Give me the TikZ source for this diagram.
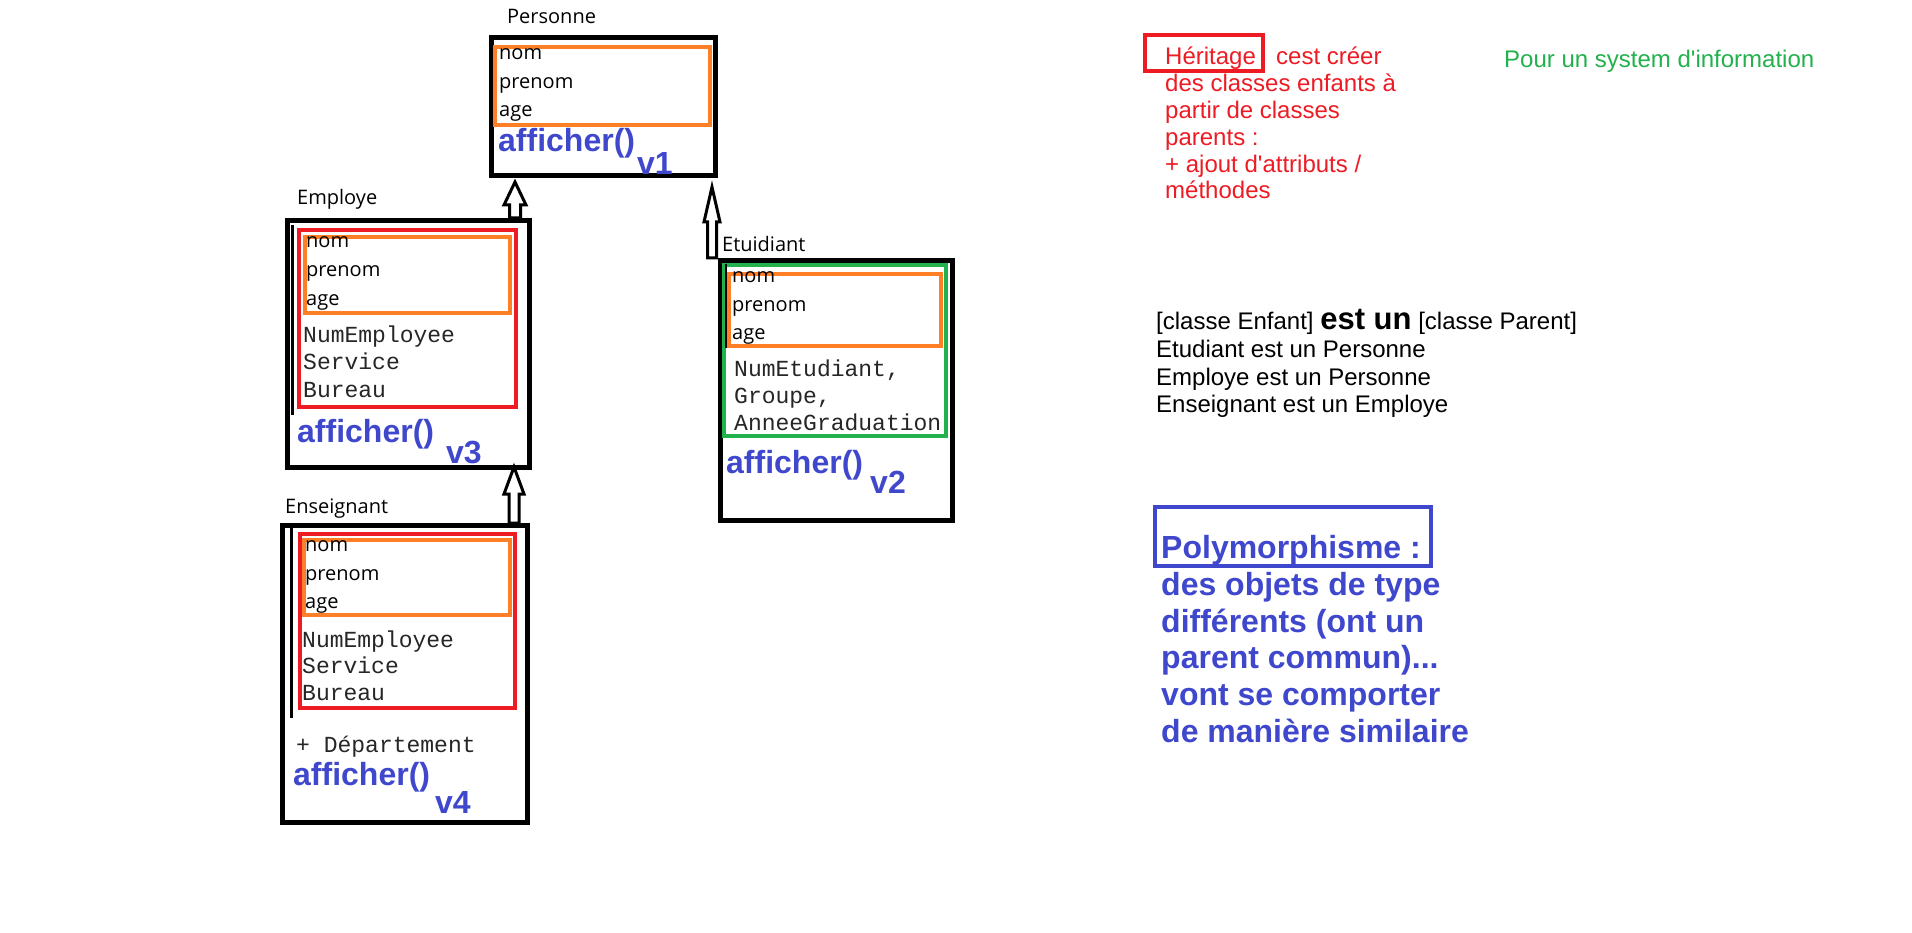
\documentclass[tikz,border=0pt]{standalone}
\usepackage{fontspec}
\setmainfont{Liberation Sans}
\setmonofont{Liberation Mono}
\newfontfamily\segfont{Open Sans}
\usetikzlibrary{calc}
\definecolor{pred}{HTML}{ED1C24}
\definecolor{porange}{HTML}{FF7F27}
\definecolor{pgreen}{HTML}{22B14C}
\definecolor{pblue}{HTML}{3F48CC}
\tikzset{
  classbox/.style={draw=black, line width=5pt, inner sep=0pt, anchor=north west},
  orbox/.style={draw=porange, line width=4pt, inner sep=0pt, anchor=north west},
  redbox/.style={draw=pred, line width=4pt, inner sep=0pt, anchor=north west},
  grbox/.style={draw=pgreen, line width=4pt, inner sep=0pt, anchor=north west},
  bluebox/.style={draw=pblue, line width=4pt, inner sep=0pt, anchor=north west},
  lbl/.style={font=\segfont\fontsize{20}{24}\selectfont, anchor=base west, inner sep=0pt},
  mono/.style={font=\ttfamily\fontsize{23}{27}\selectfont, text=black!85, anchor=base west, inner sep=0pt},
  meth/.style={font=\bfseries\fontsize{32}{36}\selectfont, text=pblue, anchor=base west, inner sep=0pt},
  redtxt/.style={font=\fontsize{24}{27}\selectfont, text=pred, anchor=base west, inner sep=0pt},
  blktxt/.style={font=\fontsize{24}{27}\selectfont, text=black, anchor=base west, inner sep=0pt},
  grtxt/.style={font=\fontsize{24}{27}\selectfont, text=pgreen, anchor=base west, inner sep=0pt},
  bltxt/.style={font=\bfseries\fontsize{32}{37}\selectfont, text=pblue, anchor=base west, inner sep=0pt},
  sideline/.style={draw=black, line width=3pt},
  blockarr/.style={draw=black, line width=3pt, fill=white, line join=miter}
}
\newcommand\hollowarrow[5]{%
  \draw[blockarr] let \p1=(#1), \p2=(#2) in
    (\x1-#4pt,\y1) -- (\x1-#4pt,\y2-#3pt) -- (\x1-#5pt,\y2-#3pt) -- (\x1,\y2)
    -- (\x1+#5pt,\y2-#3pt) -- (\x1+#4pt,\y2-#3pt) -- (\x1+#4pt,\y1) -- cycle;}
\begin{document}
\begin{tikzpicture}[x=1pt,y=-1pt]
\useasboundingbox (0,0) rectangle (1912,933);
\fill[white] (0,0) rectangle (1912,933);

% ---------- Personne ----------
\node[lbl] (lPers) at (507,24) {Personne};
\node[classbox, minimum width=224pt, minimum height=138pt] (personne) at (489,35) {};
\node[orbox, minimum width=215pt, minimum height=78pt] (pOr) at (493,45) {};
\node[lbl] (p1) at (499,60) {nom};
\node[lbl] (p2) at (499,89) {prenom};
\node[lbl] (p3) at (499,117) {age};
\node[meth] (pM) at (498,152) {afficher()};
\node[meth] (pV) at (637,175) {v1};

% ---------- Employe ----------
\node[lbl] (lEmp) at (297,205) {Employe};
\node[classbox, minimum width=242pt, minimum height=247pt] (employe) at (285,218) {};
\coordinate (eLa) at (292,225);
\coordinate (eLb) at (292,415);
\draw[sideline] (eLa) -- (eLb);
\node[redbox, minimum width=217pt, minimum height=177pt] (eRed) at (297,228) {};
\node[orbox, minimum width=205pt, minimum height=76pt] (eOr) at (303,235) {};
\node[lbl] (e1) at (306,248) {nom};
\node[lbl] (e2) at (306,277) {prenom};
\node[lbl] (e3) at (306,306) {age};
\node[mono] (e4) at (303,343) {NumEmployee};
\node[mono] (e5) at (303,370) {Service};
\node[mono] (e6) at (303,397) {Bureau};
\node[meth] (eM) at (297,442) {afficher()};
\node[meth] (eV) at (446,463) {v3};

% ---------- Enseignant ----------
\node[lbl] (lEns) at (285,513) {Enseignant};
\node[classbox, minimum width=245pt, minimum height=297pt] (enseignant) at (280,523) {};
\coordinate (nLa) at (291,528);
\coordinate (nLb) at (291,718);
\draw[sideline] (nLa) -- (nLb);
\node[redbox, minimum width=215pt, minimum height=174pt] (nRed) at (298,532) {};
\node[orbox, minimum width=206pt, minimum height=75pt] (nOr) at (302,538) {};
\node[lbl] (n1) at (305,551) {nom};
\node[lbl] (n2) at (305,580) {prenom};
\node[lbl] (n3) at (305,608) {age};
\node[mono] (n4) at (302,647) {NumEmployee};
\node[mono] (n5) at (302,673) {Service};
\node[mono] (n6) at (302,700) {Bureau};
\node[mono] (n7) at (296,752) {+ Département};
\node[meth] (nM) at (293,785) {afficher()};
\node[meth] (nV) at (435,813) {v4};

% ---------- Etudiant ----------
\node[lbl] (lEtu) at (722,252) {Etuidiant};
\node[classbox, minimum width=232pt, minimum height=260pt] (etudiant) at (718,258) {};
\node[grbox, minimum width=222pt, minimum height=171pt] (tGr) at (722,263) {};
\node[orbox, minimum width=212pt, minimum height=72pt] (tOr) at (727,272) {};
\coordinate (tLa) at (726,264);
\coordinate (tLb) at (726,348);
\draw[draw=black, line width=1.5pt] (tLa) -- (tLb);
\node[lbl] (t1) at (732,283) {nom};
\node[lbl] (t2) at (732,312) {prenom};
\node[lbl] (t3) at (732,340) {age};
\node[mono] (t4) at (734,377) {NumEtudiant,};
\node[mono] (t5) at (734,403) {Groupe,};
\node[mono] (t6) at (734,430) {AnneeGraduation};
\node[meth] (tM) at (726,473) {afficher()};
\node[meth] (tV) at (870,493) {v2};

% ---------- Inheritance arrows ----------
\coordinate (a1b) at (515,0 |- employe.north);
\coordinate (a1t) at ($(515,0 |- personne.south)+(0,4)$);
\hollowarrow{a1b}{a1t}{23}{5.5}{11}
\coordinate (a2b) at (712,0 |- etudiant.north);
\coordinate (a2t) at ($(712,0 |- personne.south)+(0,9)$);
\hollowarrow{a2b}{a2t}{35}{4.5}{8}
\coordinate (a3b) at (514,0 |- enseignant.north);
\coordinate (a3t) at ($(514,0 |- employe.south)+(0,-3)$);
\hollowarrow{a3b}{a3t}{27}{5}{10}

% ---------- Heritage text ----------
\node[redbox, minimum width=118pt, minimum height=36pt] (herBox) at (1143,33) {};
\node[redtxt] (h1) at (1165,65) {Héritage};
\node[redtxt] (h1b) at (1276,65) {cest créer};
\node[redtxt] (h2) at (1165,92) {des classes enfants à};
\node[redtxt] (h3) at (1165,119) {partir de classes};
\node[redtxt] (h4) at (1165,146) {parents :};
\node[redtxt] (h5) at (1165,173) {+ ajout d\textquotesingle attributs /};
\node[redtxt] (h6) at (1165,199) {méthodes};

\node[grtxt] (pour) at (1504,68) {Pour un system d\textquotesingle information};

% ---------- est un ----------
\node[blktxt] (k1) at (1156,330) {[classe Enfant] {\bfseries\fontsize{31}{31}\selectfont est un} [classe Parent]};
\node[blktxt] (k2) at (1156,358) {Etudiant est un Personne};
\node[blktxt] (k3) at (1156,385) {Employe est un Personne};
\node[blktxt] (k4) at (1156,412) {Enseignant est un Employe};

% ---------- Polymorphisme ----------
\node[bluebox, minimum width=276pt, minimum height=59pt] (polyBox) at (1153,505) {};
\node[bltxt] (b1) at (1161,558) {Polymorphisme :};
\node[bltxt] (b2) at (1161,595) {des objets de type};
\node[bltxt] (b3) at (1161,632) {différents (ont un};
\node[bltxt] (b4) at (1161,668) {parent commun)...};
\node[bltxt] (b5) at (1161,705) {vont se comporter};
\node[bltxt] (b6) at (1161,742) {de manière similaire};
\end{tikzpicture}
\end{document}
